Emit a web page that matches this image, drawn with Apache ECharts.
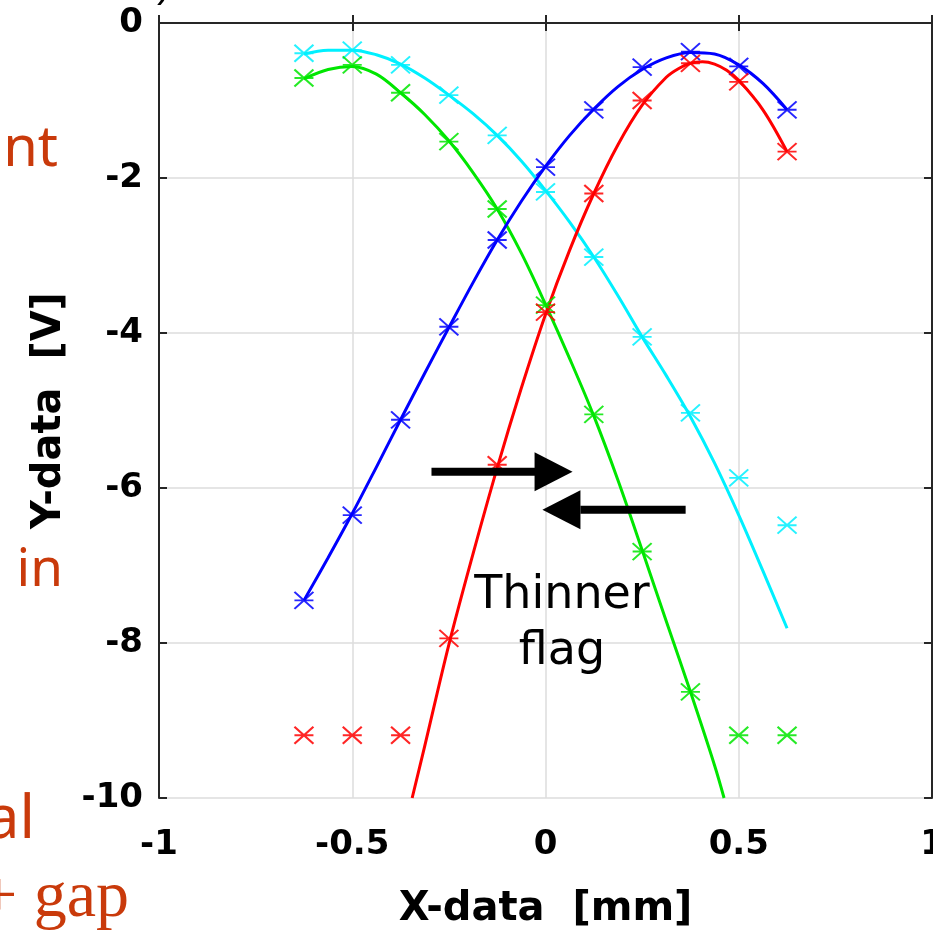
<!DOCTYPE html>
<html>
<head>
<meta charset="utf-8">
<script src="https://cdn.jsdelivr.net/npm/echarts@6/dist/echarts.min.js"></script>
<style>html,body{margin:0;padding:0;background:#fff;}#c{width:933px;height:933px;}</style>
</head>
<body>
<div id="c"></div>
<script>
// ---- measured points (x in mm, y in V) ----
const xPts = [-0.625,-0.5,-0.375,-0.25,-0.125,0,0.125,0.25,0.375,0.5,0.625];
const bluePts  = [-7.45,-6.35,-5.12,-3.92,-2.80,-1.86,-1.12,-0.57,-0.37,-0.56,-1.12];
const redPts   = [-9.19,-9.19,-9.19,-7.94,-5.70,-3.73,-2.20,-1.00,-0.52,-0.76,-1.66];
const greenPts = [-0.71,-0.54,-0.90,-1.53,-2.40,-3.64,-5.05,-6.82,-8.63,-9.19,-9.19];
const cyanPts  = [-0.39,-0.35,-0.54,-0.93,-1.45,-2.18,-3.02,-4.05,-5.03,-5.87,-6.48];

// ---- fitted curves ----
const blueFitX = [-0.625,-0.5625,-0.5,-0.4375,-0.375,-0.3125,-0.25,-0.1875,-0.125,-0.0625,0,0.0625,0.125,0.1875,0.25,0.3125,0.375,0.4375,0.5,0.5625,0.625];
const blueFitY = [-7.45,-6.90,-6.33,-5.73,-5.12,-4.52,-3.93,-3.35,-2.80,-2.30,-1.85,-1.45,-1.11,-0.82,-0.60,-0.45,-0.38,-0.40,-0.54,-0.78,-1.12];
const redFitX  = [-0.345,-0.3125,-0.25,-0.1875,-0.125,-0.0625,0,0.0625,0.125,0.1875,0.25,0.3125,0.34375,0.375,0.40625,0.4375,0.46875,0.5,0.5625,0.625];
const redFitY  = [-10,-9.33,-8.02,-6.85,-5.74,-4.71,-3.76,-2.93,-2.20,-1.57,-1.06,-0.70,-0.59,-0.52,-0.50,-0.53,-0.61,-0.74,-1.12,-1.66];
const greenFitX = [-0.625,-0.5625,-0.5,-0.4375,-0.375,-0.3125,-0.25,-0.1875,-0.125,-0.0625,0,0.0625,0.125,0.1875,0.25,0.3125,0.375,0.4375,0.462];
const greenFitY = [-0.72,-0.60,-0.56,-0.66,-0.90,-1.18,-1.52,-1.93,-2.40,-2.97,-3.63,-4.33,-5.07,-5.90,-6.80,-7.72,-8.63,-9.58,-10];
const cyanFitX = [-0.625,-0.5625,-0.5,-0.4375,-0.375,-0.3125,-0.25,-0.1875,-0.125,-0.0625,0,0.0625,0.125,0.1875,0.25,0.3125,0.375,0.4375,0.5,0.5625,0.625];
const cyanFitY = [-0.40,-0.35,-0.35,-0.41,-0.53,-0.71,-0.93,-1.17,-1.45,-1.78,-2.16,-2.57,-3.02,-3.52,-4.05,-4.55,-5.08,-5.68,-6.35,-7.07,-7.81];

// ---- axes ----
const xTicks = [-1,-0.5,0,0.5,1];
const yTicks = [-10,-8,-6,-4,-2,0];
const xTitle = 'X-data  [mm]';
const yTitle = 'Y-data  [V]';

// ---- annotations (data coords) ----
const arrowRight = [[-0.295,-5.79],[0.070,-5.79]];
const arrowLeft  = [[0.360,-6.28],[-0.008,-6.28]];
const noteText = 'Thinner\nflag';

const zip = (xs, ys) => xs.map((x, i) => [x, ys[i]]);
const COL = {blue:'#0000ff', red:'#ff0000', green:'#00e600', cyan:'#00f0ff'};
const markPath = 'path://M0,0L18,16M18,0L0,16M0,8L18,8';

function fitSeries(xs, ys, c) {
  return {type:'line', data: zip(xs, ys), showSymbol:false, smooth:0.35, clip:true,
    lineStyle:{color:c, width:3}, z:3, silent:true};
}
function ptSeries(ys, c) {
  return {type:'scatter', data: zip(xPts, ys), symbol: markPath, symbolSize:[19,17],
    itemStyle:{color:c, borderColor:c, borderWidth:2, opacity:0.85}, z:4, silent:true};
}

const axisCol = '#262626';
const labelFont = {fontFamily:'DejaVu Sans', fontWeight:'bold', fontSize:34, color:'#000'};

const chart = echarts.init(document.getElementById('c'), null, {renderer:'canvas'});
chart.setOption({
  animation:false,
  backgroundColor:'#ffffff',
  grid:{left:159, right:1, top:23, bottom:135, containLabel:false, outerBoundsMode:'none'},
  xAxis:[{
    type:'value', min:xTicks[0], max:xTicks[xTicks.length-1], interval:0.5, position:'bottom',
    axisLine:{show:true, lineStyle:{color:axisCol, width:2}},
    axisTick:{show:true, inside:true, length:8, lineStyle:{color:axisCol, width:2}},
    splitLine:{show:true, lineStyle:{color:'#dcdcdc', width:1.5}},
    axisLabel:Object.assign({margin:30, lineHeight:34, formatter:v=>String(v)}, labelFont),
    name:xTitle, nameLocation:'middle', nameGap:92,
    nameTextStyle:{fontFamily:'DejaVu Sans', fontWeight:'bold', fontSize:40, color:'#000', lineHeight:40}
  },{
    type:'value', min:xTicks[0], max:xTicks[xTicks.length-1], interval:0.5, position:'top',
    axisLine:{show:true, onZero:false, lineStyle:{color:axisCol, width:2}},
    axisTick:{show:true, inside:true, length:8, lineStyle:{color:axisCol, width:2}},
    splitLine:{show:false}, axisLabel:{show:false}
  }],
  yAxis:[{
    type:'value', min:yTicks[0], max:yTicks[yTicks.length-1], interval:2, position:'left',
    axisLine:{show:true, onZero:false, lineStyle:{color:axisCol, width:2}},
    axisTick:{show:true, inside:true, length:8, lineStyle:{color:axisCol, width:2}},
    splitLine:{show:true, lineStyle:{color:'#dcdcdc', width:1.5}},
    axisLabel:Object.assign({margin:16}, labelFont),
    name:yTitle, nameLocation:'middle', nameGap:89, nameRotate:90,
    nameTextStyle:{fontFamily:'DejaVu Sans', fontWeight:'bold', fontSize:40, color:'#000', lineHeight:40}
  },{
    type:'value', min:yTicks[0], max:yTicks[yTicks.length-1], interval:2, position:'right',
    axisLine:{show:true, onZero:false, lineStyle:{color:axisCol, width:2}},
    axisTick:{show:true, inside:true, length:8, lineStyle:{color:axisCol, width:2}},
    splitLine:{show:false}, axisLabel:{show:false}
  }],
  series:[
    fitSeries(cyanFitX, cyanFitY, COL.cyan),
    fitSeries(greenFitX, greenFitY, COL.green),
    fitSeries(blueFitX, blueFitY, COL.blue),
    fitSeries(redFitX, redFitY, COL.red),
    ptSeries(cyanPts, COL.cyan),
    ptSeries(greenPts, COL.green),
    ptSeries(bluePts, COL.blue),
    ptSeries(redPts, COL.red)
  ]
});

function arrowGraphics(pair) {
  const p0 = chart.convertToPixel({gridIndex:0}, pair[0]);
  const p1 = chart.convertToPixel({gridIndex:0}, pair[1]);
  const dir = Math.sign(p1[0]-p0[0]);
  const headLen = 38, headHalf = 19.5, shaft = 8;
  const baseX = p1[0] - dir*headLen;
  const y = p0[1];
  return [
    {type:'rect', shape:{x:Math.min(p0[0], baseX), y:y-shaft/2, width:Math.abs(baseX-p0[0])+1, height:shaft},
      style:{fill:'#000'}, z:10},
    {type:'polygon', shape:{points:[[baseX, y-headHalf],[p1[0], y],[baseX, y+headHalf]]},
      style:{fill:'#000'}, z:10}
  ];
}

const orange = '#c93a0b';
chart.setOption({
  graphic: [].concat(
    arrowGraphics(arrowRight),
    arrowGraphics(arrowLeft),
    [
      {type:'text', z:10,
        style:{text:noteText, x:562, y:624, align:'center', verticalAlign:'middle',
          font:'46px "DejaVu Sans"', lineHeight:56, fill:'#000'}},
      {type:'text', z:10, style:{text:'nt', x:58, y:150, align:'right', verticalAlign:'middle',
          font:'56px "Noto Sans"', fill:orange}},
      {type:'text', z:10, style:{text:'in', x:63, y:571, align:'right', verticalAlign:'middle',
          font:'53px "Noto Sans"', fill:orange}},
      {type:'text', z:10, style:{text:'al', x:35, y:821, align:'right', verticalAlign:'middle',
          font:'60px "Noto Sans"', fill:orange}},
      {type:'text', z:10, style:{text:'+ gap', x:129, y:899, align:'right', verticalAlign:'middle',
          font:'66px "Liberation Serif"', fill:orange}},
      {type:'text', z:10, style:{text:')', x:157, y:-14, align:'left', verticalAlign:'middle',
          font:'40px "Liberation Sans"', fill:'#000'}}
    ]
  )
});
</script>
</body>
</html>
